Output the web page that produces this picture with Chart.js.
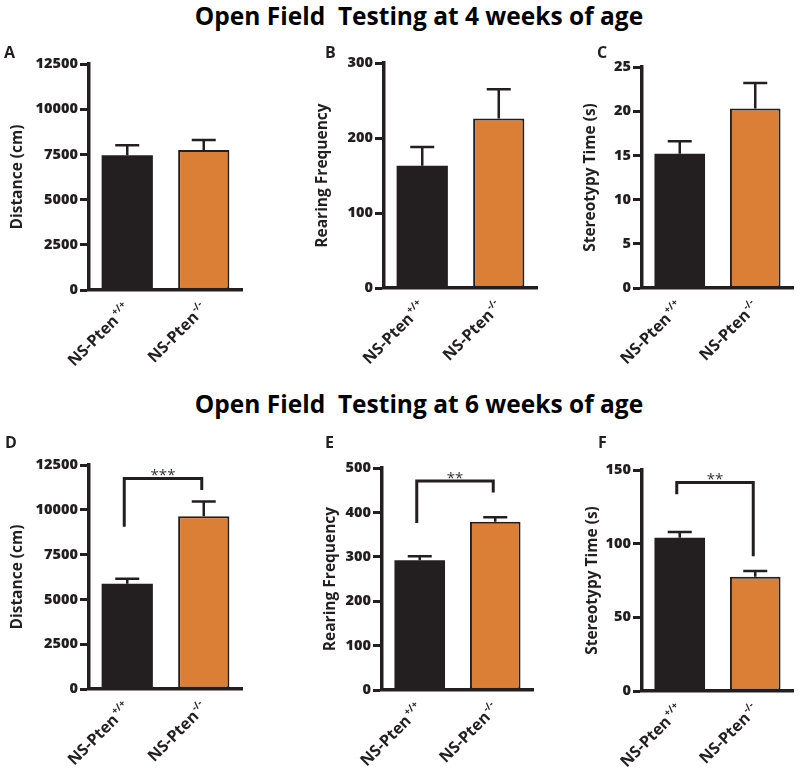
<!DOCTYPE html>
<html>
<head>
<meta charset="utf-8">
<script src="https://cdn.jsdelivr.net/npm/chart.js@4.4.1/dist/chart.umd.min.js"></script>
<style>
  body { margin: 0; background: #fff; }
  #fig { position: relative; width: 800px; height: 769px; font-family: "Open Sans", sans-serif; color: #000; }
  .title { position: absolute; left: 0; width: 838px; text-align: center; font-weight: 700; font-size: 24.5px; line-height: 1; white-space: pre; }
  .letter { position: absolute; font-weight: 700; font-size: 16px; line-height: 1; color: #231f20; }
  canvas { position: absolute; }
</style>
</head>
<body>
<div id="fig">
  <div class="title" style="top:4px">Open Field  Testing at 4 weeks of age</div>
  <div class="title" style="top:392px">Open Field  Testing at 6 weeks of age</div>
</div>
<script>
// genotypes on the x axis
const labelBase = "NS-Pten";
const labelSup = ["+/+", "-/-"];
const genotypes = labelSup.map((s) => labelBase + s);

// 4 weeks - mean and SEM
const distance4 = [7450, 7750];
const distance4Sem = [550, 550];
const rearing4 = [163, 226];
const rearing4Sem = [25, 39];
const stereo4 = [15.2, 20.3];
const stereo4Sem = [1.4, 2.9];

// 6 weeks - mean and SEM
const distance6 = [5870, 9640];
const distance6Sem = [280, 820];
const rearing6 = [292, 379];
const rearing6Sem = [9, 10];
const stereo6 = [104, 77.5];
const stereo6Sem = [4, 4];

// significance brackets (stars, top, left leg end, right leg end)
const distance6Sig = ["***", 11750, 9060, 11100];
const rearing6Sig = ["**", 471, 376, 445];
const stereo6Sig = ["**", 141.6, 133.5, 91.5];

// y axis ranges [max, step]
const distanceAxis = [12500, 2500];
const rearingAxis4 = [300, 100];
const rearingAxis6 = [500, 100];
const stereoAxis4 = [25, 5];
const stereoAxis6 = [150, 50];

const dark = "#231f20";
const orange = "#dc7f36";

Chart.defaults.font.family = "'Open Sans', sans-serif";

//error bars, only upper half
const errorBars = {
  id: "errorBars",
  afterDatasetsDraw(chart) {
    const { ctx, scales: { y } } = chart;
    const ds = chart.data.datasets[0];
    ctx.save();
    ctx.strokeStyle = dark;
    ctx.lineWidth = 2.5;
    chart.getDatasetMeta(0).data.forEach((bar, i) => {
      const base = y.getPixelForValue(ds.data[i]);
      const top = y.getPixelForValue(ds.data[i] + ds.sem[i]);
      ctx.beginPath();
      ctx.moveTo(bar.x, base);
      ctx.lineTo(bar.x, top);
      ctx.moveTo(bar.x - 12, top);
      ctx.lineTo(bar.x + 12, top);
      ctx.stroke();
    });
    ctx.restore();
  },
};

//bracket with stars
const sigBracket = {
  id: "sigBracket",
  afterDatasetsDraw(chart) {
    const sig = chart.data.datasets[0].sig;
    if (!sig) return;
    const { ctx, scales: { x, y } } = chart;
    const x1 = x.getPixelForValue(0) - 3;
    const x2 = x.getPixelForValue(1) - 2;
    const top = y.getPixelForValue(sig[1]);
    ctx.save();
    ctx.strokeStyle = dark;
    ctx.lineWidth = 3;
    ctx.lineJoin = "miter";
    ctx.beginPath();
    ctx.moveTo(x1, y.getPixelForValue(sig[2]));
    ctx.lineTo(x1, top);
    ctx.lineTo(x2, top);
    ctx.lineTo(x2, y.getPixelForValue(sig[3]));
    ctx.stroke();
    ctx.fillStyle = "#333";
    ctx.font = "15px 'Open Sans'";
    ctx.textAlign = "center";
    ctx.textBaseline = "alphabetic";
    ctx.fillText(sig[0], (x1 + x2) / 2, top + 2);
    ctx.restore();
  },
};

//rotated x labels with superscript genotype
const xLabels = {
  id: "xLabels",
  afterDraw(chart) {
    const { ctx, scales: { x, y } } = chart;
    chart.data.labels.forEach((lab, i) => {
      ctx.save();
      ctx.translate(x.getPixelForValue(i) + 4, y.bottom + 20);
      ctx.rotate(-Math.PI / 4);
      ctx.fillStyle = dark;
      ctx.textAlign = "right";
      ctx.textBaseline = "alphabetic";
      ctx.font = "bold 10px 'Open Sans'";
      const sw = ctx.measureText(labelSup[i]).width;
      ctx.fillText(labelSup[i], 0, -7);
      ctx.font = "bold 16px 'Open Sans'";
      ctx.fillText(lab.slice(0, labelBase.length), -sw - 1, 0);
      ctx.restore();
    });
  },
};

const fig = document.querySelector("#fig");

function addLetter(text, left, top) {
  const d = document.createElement("div");
  d.className = "letter";
  d.style.left = left + "px";
  d.style.top = top + "px";
  d.textContent = text;
  fig.appendChild(d);
}

// box = [left, right, top, bottom] of plot area, tx = y title center
function panel(letter, lpos, box, tx, title, means, sems, axis, sig) {
  const [L, R, T, B] = box;
  const left = tx - 9;
  const top = T - 20;
  const canvas = document.createElement("canvas");
  canvas.width = R + 6 - left;
  canvas.height = B - top + 76;
  canvas.style.left = left + "px";
  canvas.style.top = top + "px";
  fig.appendChild(canvas);
  addLetter(letter, lpos[0], lpos[1]);

  new Chart(canvas.getContext("2d"), {
    type: "bar",
    data: {
      labels: genotypes,
      datasets: [
        {
          data: means,
          sem: sems,
          sig: sig,
          backgroundColor: [dark, orange],
          borderColor: dark,
          borderWidth: [0, 2],
          borderSkipped: false,
          barPercentage: 0.67,
          categoryPercentage: 1,
        },
      ],
    },
    options: {
      responsive: false,
      animation: false,
      layout: { padding: { top: 20, right: 6, left: 0, bottom: 0 } },
      plugins: { legend: { display: false }, tooltip: { enabled: false } },
      scales: {
        x: {
          grid: { display: false, drawTicks: false },
          border: { display: true, color: dark, width: 3.5 },
          ticks: { display: false },
          afterFit: (s) => { s.height = 76; },
        },
        y: {
          min: 0,
          max: axis[0],
          afterFit: (s) => { s.width = L - left; },
          ticks: {
            stepSize: axis[1],
            color: dark,
            padding: 2,
            font: { size: 14.5, weight: "800" },
            callback: (v) => String(v), // no thousands separator
          },
          grid: { drawOnChartArea: false, drawTicks: true, tickLength: 9, tickWidth: 3, color: dark },
          border: { display: true, color: dark, width: 3.5 },
          title: {
            display: true,
            text: title,
            color: dark,
            padding: 0,
            font: { size: 15.5, weight: "bold" },
          },
        },
      },
    },
    plugins: [errorBars, sigBracket, xLabels],
  });
}

panel("A", [4, 44], [89, 242, 64, 290], 17, "Distance (cm)", distance4, distance4Sem, distanceAxis);
panel("B", [325, 44], [384, 537, 63, 288], 322, "Rearing Frequency", rearing4, rearing4Sem, rearingAxis4);
panel("C", [597, 44], [642, 793, 67, 288], 590, "Stereotypy Time (s)", stereo4, stereo4Sem, stereoAxis4);
panel("D", [5, 434], [89, 242, 465, 689], 17, "Distance (cm)", distance6, distance6Sem, distanceAxis, distance6Sig);
panel("E", [325, 434], [382, 533, 468, 690], 330, "Rearing Frequency", rearing6, rearing6Sem, rearingAxis6, rearing6Sig);
panel("F", [598, 434], [642, 793, 470, 691], 592, "Stereotypy Time (s)", stereo6, stereo6Sem, stereoAxis6, stereo6Sig);
</script>
</body>
</html>
